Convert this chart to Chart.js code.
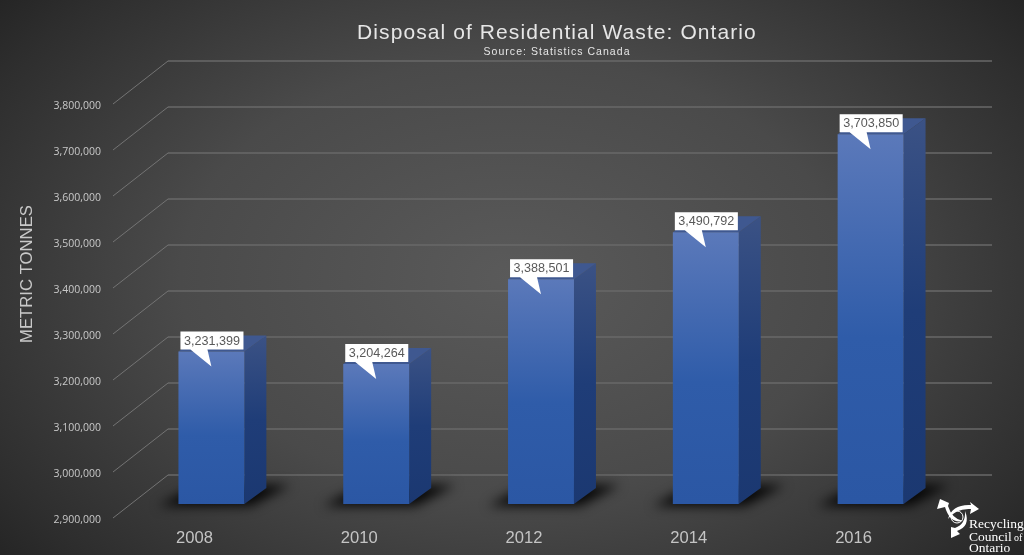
<!DOCTYPE html>
<html>
<head>
<meta charset="utf-8">
<title>Disposal of Residential Waste: Ontario</title>
<script src="https://cdn.jsdelivr.net/npm/chart.js@4"></script>
<style>
html, body { margin: 0; padding: 0; overflow: hidden; }
body { width: 1024px; height: 555px; background: radial-gradient(ellipse 72% 88% at 50% 50%, #5a5a5a 0%, #4a4a4a 45%, #2e2e2e 80%, #1c1c1c 100%); }
canvas { display: block; }
</style>
</head>
<body>
<canvas id="waste-chart" width="1024" height="555"></canvas>
<script>
const years = ['2008', '2010', '2012', '2014', '2016'];
const tonnes = [3231399, 3204264, 3388501, 3490792, 3703850];
const yMin = 2900000;
const yMax = 3800000;
const yStep = 100000;
const titleText = 'Disposal of Residential Waste: Ontario';
const sourceText = 'Source: Statistics Canada';
const yAxisText = 'METRIC TONNES';
const logoLines = ['Recycling', 'Council', 'Ontario'];

// depth of the fake 3D floor and of the bars standing on it
const wallDx = 56, wallDy = -43;
const barShiftX = 17, barShiftY = -14;
const sideDx = 22, sideDy = -16;

function fmt(n) { return n.toLocaleString('en-US'); }

function box(ctx, pts, fill) {
    ctx.beginPath();
    pts.forEach((p, i) => i ? ctx.lineTo(p[0], p[1]) : ctx.moveTo(p[0], p[1]));
    ctx.closePath();
    ctx.fillStyle = fill;
    ctx.fill();
}

const fakeDepth = {
    id: 'fakeDepth',
    beforeDatasetsDraw(chart) {
        const ctx = chart.ctx, area = chart.chartArea, y = chart.scales.y;
        // walls
        ctx.save();
        y.ticks.forEach(t => {
            const py = y.getPixelForValue(t.value);
            ctx.strokeStyle = '#747474';
            ctx.lineWidth = 1;
            ctx.beginPath();
            ctx.moveTo(area.left + 1, py);
            ctx.lineTo(area.left + wallDx, py + wallDy);
            ctx.stroke();
            ctx.strokeStyle = '#686868';
            ctx.lineWidth = 1.5;
            ctx.beginPath();
            ctx.moveTo(area.left + wallDx, py + wallDy);
            ctx.lineTo(area.right + wallDx, py + wallDy);
            ctx.stroke();
        });
        ctx.restore();

        ctx.save();
        ctx.translate(barShiftX, barShiftY);
        const bars = chart.getDatasetMeta(0).data;
        // floor shadows first, so they sit under every bar
        bars.forEach(b => {
            const l = b.x - b.width / 2, r = b.x + b.width / 2;
            ctx.save();
            ctx.filter = 'blur(6px)';
            box(ctx, [[l - 20, b.base + 2], [r + 6, b.base + 2], [r + 46, b.base - 19], [l + 20, b.base - 19]], 'rgba(0,0,0,0.92)');
            ctx.restore();
        });
        bars.forEach(b => {
            const r = b.x + b.width / 2, l = b.x - b.width / 2;
            const side = ctx.createLinearGradient(0, b.y + sideDy, 0, b.base);
            side.addColorStop(0, '#3b5285');
            side.addColorStop(0.5, '#1f3d78');
            side.addColorStop(1, '#1b3871');
            box(ctx, [[r, b.y], [r + sideDx, b.y + sideDy], [r + sideDx, b.base + sideDy], [r, b.base]], side);
            box(ctx, [[l, b.y], [l + sideDx, b.y + sideDy], [r + sideDx, b.y + sideDy], [r, b.y]], '#3f5890');
        });
        ctx.restore();

        ctx.save();
        ctx.translate(barShiftX, barShiftY);
    },
    afterDatasetsDraw(chart) {
        const ctx = chart.ctx;
        ctx.restore();

        // callouts
        ctx.save();
        ctx.translate(barShiftX, barShiftY);
        ctx.font = '12.6px "Liberation Sans"';
        chart.getDatasetMeta(0).data.forEach((b, i) => {
            const label = fmt(tonnes[i]);
            const w = ctx.measureText(label).width + 7;
            const left = b.x - b.width / 2 + 2;
            const bottom = b.y - 2;
            const h = 18;
            box(ctx, [[left, bottom - h], [left + w, bottom - h], [left + w, bottom],
                [left + 27, bottom], [b.x, b.y + 15], [left + 10, bottom], [left, bottom]], '#ffffff');
            ctx.fillStyle = '#595959';
            ctx.textAlign = 'left';
            ctx.textBaseline = 'middle';
            ctx.fillText(label, left + 3.5, bottom - h / 2 + 0.5);
        });
        ctx.restore();
    },
    afterDraw(chart) {
        const ctx = chart.ctx;
        ctx.save();
        ctx.textAlign = 'center';
        ctx.textBaseline = 'middle';
        ctx.fillStyle = '#e6e6e6';
        ctx.font = '21px "Liberation Sans"';
        ctx.letterSpacing = '1.08px';
        ctx.fillText(titleText, 557, 33.5);
        ctx.font = '10.5px "Liberation Sans"';
        ctx.letterSpacing = '1.05px';
        ctx.fillText(sourceText, 557, 52);
        ctx.letterSpacing = '0px';

        ctx.save();
        ctx.translate(27, 274);
        ctx.rotate(-Math.PI / 2);
        ctx.fillStyle = '#c8c8c8';
        ctx.font = '16.7px "Liberation Sans"';
        ctx.fillText(yAxisText, 0, 0);
        ctx.restore();

        drawLogo(ctx);
        ctx.restore();
    }
};

// tapered curved arrow of the logo
function arrow(ctx, a) {
    ctx.beginPath();
    ctx.moveTo(a.tail[0], a.tail[1]);
    ctx.quadraticCurveTo(a.c1[0], a.c1[1], a.n1[0], a.n1[1]);
    ctx.lineTo(a.w1[0], a.w1[1]);
    ctx.lineTo(a.tip[0], a.tip[1]);
    ctx.lineTo(a.w2[0], a.w2[1]);
    ctx.lineTo(a.n2[0], a.n2[1]);
    ctx.quadraticCurveTo(a.c2[0], a.c2[1], a.tail[0], a.tail[1]);
    ctx.closePath();
    ctx.fill();
}

function drawLogo(ctx) {
    ctx.save();
    ctx.fillStyle = '#ffffff';
    ctx.strokeStyle = '#ffffff';
    arrow(ctx, { tail: [963, 521], c1: [950, 524], n1: [945, 507], w1: [937, 509], tip: [940, 499], w2: [949, 503], n2: [948, 506], c2: [952, 519] });
    arrow(ctx, { tail: [948, 519], c1: [952, 504], n1: [971, 505], w1: [970, 502], tip: [979, 509], w2: [970, 514], n2: [971, 509], c2: [956, 508] });
    arrow(ctx, { tail: [965, 511], c1: [971, 526], n1: [957, 531], w1: [960, 534], tip: [951, 538], w2: [951, 527], n2: [955, 528], c2: [966, 524] });
    ctx.lineWidth = 1;
    ctx.beginPath();
    ctx.arc(957, 517, 6, 0, Math.PI * 2);
    ctx.stroke();

    ctx.textAlign = 'left';
    ctx.textBaseline = 'alphabetic';
    ctx.font = '13.5px "Liberation Serif"';
    ctx.fillText(logoLines[0], 969, 528);
    ctx.fillText(logoLines[1], 969, 541);
    ctx.fillText(logoLines[2], 969, 552);
    ctx.font = '10px "Liberation Serif"';
    ctx.fillText('of', 1014, 541);
    ctx.restore();
}

new Chart(document.getElementById('waste-chart').getContext('2d'), {
    type: 'bar',
    data: {
        labels: years,
        datasets: [{
            label: 'Metric tonnes',
            data: tonnes,
            base: yMin,
            clip: false,
            barPercentage: 0.4,
            categoryPercentage: 1,
            backgroundColor(c) {
                const area = c.chart.chartArea;
                if (!area) return '#2e5aa8';
                const top = c.chart.scales.y.getPixelForValue(c.raw);
                const g = c.chart.ctx.createLinearGradient(0, top, 0, area.bottom);
                g.addColorStop(0, '#5b79ba');
                g.addColorStop(0.55, '#2f5ca9');
                g.addColorStop(1, '#2b57a4');
                return g;
            }
        }]
    },
    options: {
        responsive: false,
        animation: false,
        layout: { padding: { top: 104, right: 88, bottom: 0, left: 0 } },
        plugins: { legend: { display: false }, title: { display: false }, tooltip: { enabled: false } },
        scales: {
            x: {
                grid: { display: false, drawTicks: false },
                border: { display: false },
                ticks: { color: '#c4c4c4', font: { family: 'Liberation Sans', size: 16.6 }, padding: 10 },
                afterFit(scale) { scale.height = 37; }
            },
            y: {
                min: yMin,
                max: yMax,
                grid: { display: false, drawTicks: false },
                border: { display: false },
                ticks: {
                    stepSize: yStep,
                    color: '#c8c8c8',
                    font: { family: 'Open Sans', size: 10.5 },
                    padding: 11,
                    labelOffset: 2,
                    callback: v => fmt(v)
                },
                afterFit(scale) { scale.width = 112; }
            }
        }
    },
    plugins: [fakeDepth]
});
</script>
</body>
</html>
